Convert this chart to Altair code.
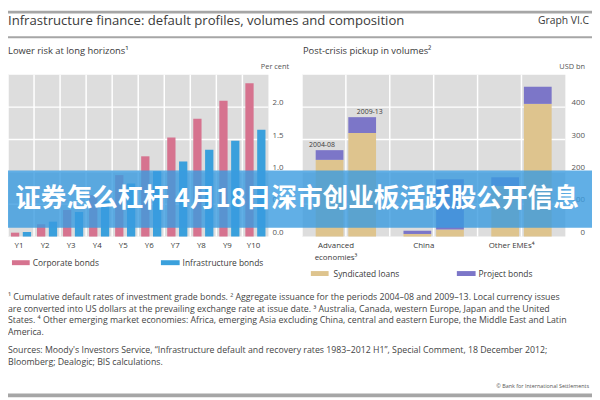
import altair as alt
import pandas as pd

FONT = "Open Sans"
CJK = "Noto Sans CJK SC"
TXT = "#3a3a3a"

# ---------------- data: left panel ----------------
years = ["Y1", "Y2", "Y3", "Y4", "Y5", "Y6", "Y7", "Y8", "Y9", "Y10"]
corporate = [0.06, 0.19, 0.41, 0.64, 0.95, 1.24, 1.53, 1.82, 2.10, 2.37]
infrastructure = [0.07, 0.23, 0.38, 0.55, 0.82, 1.01, 1.16, 1.34, 1.48, 1.65]
left_series = ["Corporate bonds", "Infrastructure bonds"]
left_colors = ["#d6738f", "#3aa0dc"]
left_ticks = [0.0, 0.5, 1.0, 1.5, 2.0]
left_grid = [0.5, 1.0, 1.5, 2.0]

# ---------------- data: right panel ----------------
regions = ["Advanced", "China", "Other EMEs"]
region_labels = ["Advanced\neconomies³", "China", "Other EMEs⁴"]
periods = ["2004-08", "2009-13"]
syndicated_0408 = [237, 8, 156]
syndicated_0913 = [320, 22, 410]
project_0408 = [30, 10, 27]
project_0913 = [49, 155, 53]
right_series = ["Syndicated loans", "Project bonds"]
right_colors = ["#dec48e", "#7c76c8"]
right_ticks = [0, 100, 200, 300, 400]
right_grid = [100, 200, 300, 400]

title_text = "Infrastructure finance: default profiles, volumes and composition"
graph_id = "Graph VI.C"
left_title = "Lower risk at long horizons¹"
right_title = "Post-crisis pickup in volumes²"
footnotes = [
    "¹ Cumulative default rates of investment grade bonds.    ² Aggregate issuance for the periods 2004–08 and 2009–13. Local currency issues",
    "are converted into US dollars at the prevailing exchange rate at issue date.    ³ Australia, Canada, western Europe, Japan and the United",
    "States.    ⁴ Other emerging market economies: Africa, emerging Asia excluding China, central and eastern Europe, the Middle East and Latin",
    "America.",
]
sources = [
    "Sources: Moody's Investors Service, \u201cInfrastructure default and recovery rates 1983–2012 H1\u201d, Special Comment, 18 December 2012;",
    "Bloomberg; Dealogic; BIS calculations.",
]
copyright_text = "© Bank for International Settlements"
banner_text = "证券怎么杠杆 4月18日深市创业板活跃股公开信息"

# ---------------- tables ----------------
left_df = pd.DataFrame({
    "year": years * 2,
    "series": [s for s in left_series for _ in years],
    "value": corporate + infrastructure,
})

rows = []
for i, r in enumerate(regions):
    for p, sv, pv in [(periods[0], syndicated_0408, project_0408),
                      (periods[1], syndicated_0913, project_0913)]:
        rows.append(dict(region=r, period=p, comp=right_series[0], value=sv[i], ord=0))
        rows.append(dict(region=r, period=p, comp=right_series[1], value=pv[i], ord=1))
right_df = pd.DataFrame(rows)

adv_df = pd.DataFrame({
    "region": [regions[0]] * 2,
    "period": periods,
    "total": [syndicated_0408[0] + project_0408[0], syndicated_0913[0] + project_0913[0]],
})

# ---------------- scales ----------------
LX0, LX1 = 0, 264
RX0, RX1 = 298, 565
YB, YT = 229, 65

def LX():
    return alt.Scale(domain=years, range=[LX0, LX1], paddingInner=0, paddingOuter=0)

def LY():
    return alt.Scale(domain=[0, 2.5], range=[YB, YT], nice=False)

def RX():
    return alt.Scale(domain=regions, range=[RX0, RX1], paddingInner=0, paddingOuter=0)

def RY():
    return alt.Scale(domain=[0, 500], range=[YB, YT], nice=False)

ONE = alt.Data(values=[{"t": ""}])


def box(x, x2, y, y2, color, opacity=1.0):
    return alt.Chart(ONE).mark_rect(color=color, opacity=opacity).encode(
        x=alt.value(x), x2=alt.value(x2), y=alt.value(y), y2=alt.value(y2))


def label(text, x, y, size, align="left", baseline="middle", color=TXT,
          weight="normal", font=FONT):
    return alt.Chart(alt.Data(values=[{"t": text}])).mark_text(
        x=x, y=y, align=align, baseline=baseline, fontSize=size, color=color,
        fontWeight=weight, font=font).encode(text="t:N")


layers = []

# rules at top
layers.append(box(0, 592, 0, 3, "#a6a6a6"))
layers.append(label(title_text, 0, 11, 13.3))
layers.append(label(graph_id, 589, 11, 10.5, align="right"))
layers.append(box(0, 592, 26, 28, "#a6a6a6"))
layers.append(label(left_title, 0, 41, 9.5))
layers.append(label(right_title, 299, 41, 9.5))
layers.append(label("Per cent", 285, 57, 7.5, align="right", color="#555"))
layers.append(label("USD bn", 585, 57, 7.5, align="right", color="#555"))

# plot backgrounds
layers.append(box(LX0, LX1, YT, YB, "#dddddd"))
layers.append(box(RX0, RX1, YT, YB, "#dddddd"))

# grid - left
layers.append(alt.Chart(pd.DataFrame({"year": years})).mark_rule(color="white", strokeWidth=1.5).encode(
    x=alt.X("year:N", scale=LX(), axis=None, bandPosition=0),
    y=alt.value(YT), y2=alt.value(YB)))
layers.append(alt.Chart(pd.DataFrame({"v": left_grid})).mark_rule(color="white", strokeWidth=1.5).encode(
    y=alt.Y("v:Q", scale=LY(), axis=None),
    x=alt.value(LX0), x2=alt.value(LX1)))
# grid - right
reg_df = pd.DataFrame({"region": regions, "lab": region_labels})
for bp in (0, 0.5):
    layers.append(alt.Chart(reg_df).mark_rule(color="white", strokeWidth=1.5).encode(
        x=alt.X("region:N", scale=RX(), axis=None, bandPosition=bp),
        y=alt.value(YT), y2=alt.value(YB)))
layers.append(alt.Chart(pd.DataFrame({"v": right_grid})).mark_rule(color="white", strokeWidth=1.5).encode(
    y=alt.Y("v:Q", scale=RY(), axis=None),
    x=alt.value(RX0), x2=alt.value(RX1)))

# bars - left
layers.append(alt.Chart(left_df).mark_bar().encode(
    x=alt.X("year:N", scale=LX(), axis=None),
    xOffset=alt.XOffset("series:N", scale=alt.Scale(domain=left_series, paddingInner=0.3, paddingOuter=0.25)),
    y=alt.Y("value:Q", scale=LY(), axis=None, stack=None),
    color=alt.Color("series:N", scale=alt.Scale(domain=left_series, range=left_colors), legend=None)))

# bars - right (stacked)
layers.append(alt.Chart(right_df).transform_stack(
    stack="value", as_=["v0", "v1"], groupby=["region", "period"],
    sort=[alt.SortField("ord", order="ascending")]
).mark_bar().encode(
    x=alt.X("region:N", scale=RX(), axis=None),
    xOffset=alt.XOffset("period:N", scale=alt.Scale(domain=periods, paddingInner=0.15, paddingOuter=0.42)),
    y=alt.Y("v0:Q", scale=RY(), axis=None),
    y2="v1:Q",
    color=alt.Color("comp:N", scale=alt.Scale(domain=right_series, range=right_colors), legend=None)))

# period labels
layers.append(alt.Chart(adv_df).mark_text(baseline="bottom", dy=-2, fontSize=7, font=FONT, color=TXT).encode(
    x=alt.X("region:N", scale=RX(), axis=None),
    xOffset=alt.XOffset("period:N", scale=alt.Scale(domain=periods, paddingInner=0.15, paddingOuter=0.42)),
    y=alt.Y("total:Q", scale=RY(), axis=None),
    text="period:N"))

# y tick labels
layers.append(alt.Chart(pd.DataFrame({"v": left_ticks})).mark_text(
    x=268, align="left", baseline="bottom", fontSize=8, font=FONT, color="#555").encode(
    y=alt.Y("v:Q", scale=LY(), axis=None), text=alt.Text("v:Q", format=".1f")))
layers.append(alt.Chart(pd.DataFrame({"v": right_ticks})).mark_text(
    x=585, align="right", baseline="bottom", fontSize=8, font=FONT, color="#555").encode(
    y=alt.Y("v:Q", scale=RY(), axis=None), text=alt.Text("v:Q", format="d")))

# x labels
layers.append(alt.Chart(pd.DataFrame({"year": years})).mark_text(
    y=235, baseline="top", fontSize=8, font=FONT, color=TXT, dx=-2).encode(
    x=alt.X("year:N", scale=LX(), axis=None), text="year:N"))
layers.append(alt.Chart(reg_df).mark_text(
    y=235, baseline="top", fontSize=8, font=FONT, color=TXT, dx=-10, lineBreak="\n", lineHeight=12).encode(
    x=alt.X("region:N", scale=RX(), axis=None), text="lab:N"))

# legends
layers.append(box(4, 22, 253, 258, left_colors[0]))
layers.append(label(left_series[0], 25, 255.5, 8.5))
layers.append(box(155, 174, 253, 258, left_colors[1]))
layers.append(label(left_series[1], 177, 255.5, 8.5))
layers.append(box(307, 325, 264, 269, right_colors[0]))
layers.append(label(right_series[0], 330, 266.5, 8.5))
layers.append(box(455, 474, 264, 269, right_colors[1]))
layers.append(label(right_series[1], 477, 266.5, 8.5))

# footnotes & sources
for i, line in enumerate(footnotes):
    layers.append(label(line, 0, 290 + 12 * i, 8.9, color="#444"))
for i, line in enumerate(sources):
    layers.append(label(line, 0, 344 + 12 * i, 8.9, color="#444"))
layers.append(label(copyright_text, 589, 381, 5.5, align="right", color="#555"))
layers.append(box(0, 592, 388, 392, "#a6a6a6"))

# overlay banner
layers.append(box(0, 592, 162, 220, "#3a9be0", 0.8))
layers.append(label(banner_text, 293, 191, 26, align="center", color="white", weight="bold", font=CJK))

chart = alt.layer(*layers).resolve_scale(
    x="independent", y="independent", color="independent", xOffset="independent"
).properties(
    width=592, height=392, padding=0,
    autosize=alt.AutoSizeParams(type="none"),
    background="white",
).configure_view(stroke=None)

chart.save("out.html", embed_options={"renderer": "svg", "actions": False})
